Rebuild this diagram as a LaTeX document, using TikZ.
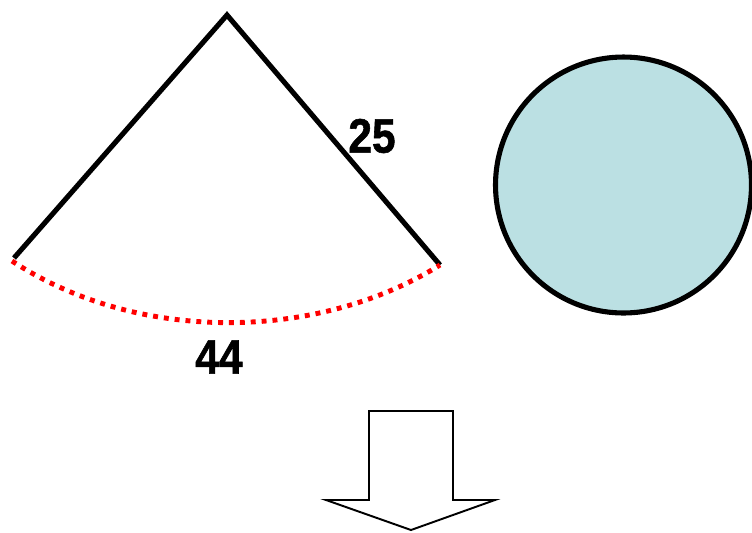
\documentclass[tikz,border=0pt]{standalone}
\usepackage{fontspec}
\newfontfamily\numfont{Liberation Sans}[FakeStretch=0.88,FakeBold=1.2]
\usetikzlibrary{positioning}
\definecolor{discoAzul}{HTML}{BBE0E3}
\definecolor{arcoRojo}{HTML}{FF0000}

\begin{document}
\begin{tikzpicture}[x=0.02cm, y=-0.02cm,
      lado/.style={draw=black, line width=2.9pt, line join=miter},
      arco/.style={draw=arcoRojo, line width=2.8pt, dash pattern=on 2.8pt off 3.4pt},
      cota/.style={font=\numfont\bfseries\fontsize{27.5}{30}\selectfont, inner sep=0pt},
      disco/.style={circle, draw=black, line width=2.9pt, fill=discoAzul,
                    minimum size=5.12cm, inner sep=0pt},
      flecha/.style={draw=black, line width=1.1pt, fill=white, line join=miter}]
    \useasboundingbox (0,0) rectangle (752,532);
    \coordinate (ap) at (227,15);
    \coordinate (iz) at (14,258);
    \coordinate (de) at (440,265);
    \draw[lado] (iz) -- (ap) -- (de);
    \draw[arco] (12,261) .. controls (140,345) and (320,340) .. (de);
    \node[cota] (r) at (372,136) {25};
    \node[cota] (l) at (219,357) {44};
    \node[disco] (b) at (623.5,185) {};
    \draw[flecha] (369,411) -- (453,411) -- (453,500) -- (495,500) -- (411,530)
                  -- (326,500) -- (369,500) -- cycle;
  \end{tikzpicture}
\end{document}
